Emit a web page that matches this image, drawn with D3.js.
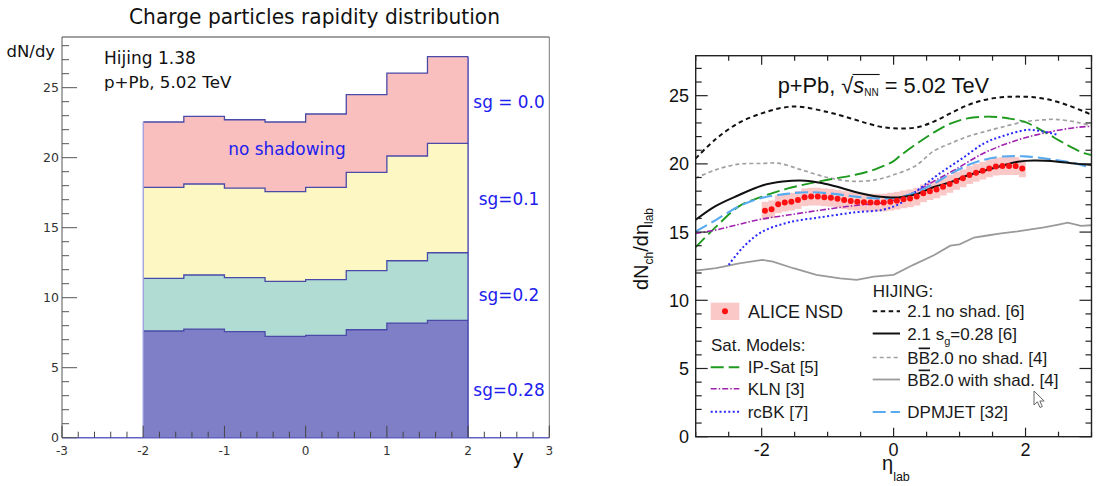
<!DOCTYPE html>
<html><head><meta charset="utf-8">
<script src="https://cdn.jsdelivr.net/npm/d3@7"></script>
<style>body{margin:0;background:#fff}svg{display:block}</style>
</head><body>
<svg id="c" width="1097" height="486"></svg>
<script>
// ---------- LEFT PANEL DATA (Hijing 1.38 histograms) ----------
const histEdges = [-2, -1.5, -1, -0.5, 0, 0.5, 1, 1.5, 2];
const histSg00  = [22.55, 22.95, 22.71, 22.55, 23.12, 24.5, 26.04, 27.22];
const histSg01  = [17.88, 18.12, 17.83, 17.57, 17.88, 18.95, 20.12, 21.02];
const histSg02  = [11.38, 11.62, 11.43, 11.17, 11.29, 11.93, 12.64, 13.21];
const histSg028 = [7.62, 7.76, 7.57, 7.24, 7.31, 7.71, 8.19, 8.38];
const histLabels = ["sg = 0.0", "sg=0.1", "sg=0.2", "sg=0.28"];
const histLabelY = [23.98, 17.05, 10.19, 3.44];
const leftYTicks = [0, 5, 10, 15, 20, 25];
const leftXTicks = [-3, -2, -1, 0, 1, 2, 3];

// ---------- RIGHT PANEL DATA ----------
const aliceEta = [-1.95,-1.85,-1.75,-1.65,-1.55,-1.45,-1.35,-1.25,-1.15,-1.05,-0.95,-0.85,-0.75,-0.65,-0.55,-0.45,-0.35,-0.25,-0.15,-0.05,
                  0.05,0.15,0.25,0.35,0.45,0.55,0.65,0.75,0.85,0.95,1.05,1.15,1.25,1.35,1.45,1.55,1.65,1.75,1.85,1.95];
const aliceVal = [16.57,16.67,17.04,17.16,17.23,17.35,17.55,17.6,17.6,17.55,17.52,17.45,17.35,17.28,17.23,17.18,17.16,17.16,17.16,17.23,
                  17.3,17.4,17.47,17.6,17.84,18.0,18.13,18.33,18.53,18.75,18.94,19.18,19.35,19.5,19.67,19.8,19.84,19.84,19.84,19.67];
const aliceErr = [0.65,0.65,0.65,0.65,0.65,0.65,0.65,0.65,0.65,0.65,0.65,0.65,0.65,0.65,0.65,0.65,0.65,0.65,0.65,0.65,
                  0.65,0.65,0.65,0.65,0.65,0.65,0.65,0.65,0.65,0.65,0.65,0.65,0.65,0.65,0.65,0.65,0.65,0.65,0.65,0.65];

const hijNoShadEta = [-3,-2.7,-2.35,-2,-1.7,-1.45,-1.0,-0.66,-0.4,-0.15,0.1,0.36,0.61,0.86,1.12,1.37,1.63,1.88,2.13,2.38,2.64,2.89,3];
const hijNoShadVal = [20.4,21.8,23.0,23.7,24.1,24.2,23.8,23.35,22.97,22.68,22.6,22.68,23.1,23.7,24.3,24.68,24.88,24.93,24.88,24.68,24.3,23.83,23.6];

const hijSgEta = [-3,-2.7,-2.35,-2,-1.68,-1.34,-1.09,-0.8,-0.55,-0.3,-0.1,0.1,0.36,0.61,0.86,1.12,1.37,1.63,1.88,2.13,2.49,2.79,3];
const hijSgVal = [15.9,16.9,17.7,18.4,18.7,18.77,18.6,18.25,17.9,17.65,17.55,17.55,17.8,18.3,18.65,19.15,19.5,19.85,20.15,20.24,20.16,20.0,19.92];

const bbNoShadEta = [-3,-2.7,-2.35,-2.0,-1.75,-1.42,-1.0,-0.6,-0.25,0,0.33,0.61,0.86,1.12,1.37,1.63,1.98,2.2,2.44,2.8,3];
const bbNoShadVal = [18.95,19.56,19.98,20.03,20.05,19.6,19.0,18.72,18.85,19.2,19.85,20.95,21.5,22.0,22.35,22.68,23.09,23.2,23.27,23.03,22.78];

const bbShadEta = [-3,-2.69,-2.34,-1.99,-1.83,-1.52,-1.17,-0.81,-0.56,-0.3,0,0.3,0.61,0.86,1.0,1.22,1.42,1.63,1.88,2.28,2.5,2.64,2.84,3];
const bbShadVal = [12.18,12.35,12.7,12.96,12.84,12.35,11.86,11.6,11.5,11.74,11.86,12.6,13.3,14.0,14.1,14.6,14.75,14.9,15.05,15.35,15.55,15.69,15.45,15.5];

const ipSatEta = [-3,-2.69,-2.34,-2.05,-1.6,-1.09,-0.58,-0.28,0,0.1,0.356,0.61,0.86,1.12,1.47,1.73,1.98,2.28,2.59,2.89,3];
const ipSatVal = [13.9,15.4,16.9,17.5,18.2,18.75,19.2,19.6,20.2,20.6,21.5,22.3,22.95,23.34,23.46,23.34,23.09,22.36,21.5,20.78,20.65];

const klnEta = [-3,-2.69,-2.34,-2.0,-1.6,-1.09,-0.58,-0.1,0.28,0.6,0.94,1.37,1.88,2.38,2.79,3];
const klnVal = [14.9,15.16,15.57,15.95,16.25,16.62,16.95,17.2,17.84,18.7,19.6,20.8,21.75,22.36,22.68,22.75];

const rcbkEta = [-2.5,-2.28,-2.0,-1.6,-1.09,-0.58,-0.15,0.1,0.4,0.7,1.04,1.37,1.63,2.03,2.28,2.5];
const rcbkVal = [12.6,13.9,15.0,15.7,16.1,16.45,16.65,17.1,18.2,19.3,20.4,21.5,22.0,22.49,22.36,22.12];

const dpmEta = [-3,-2.69,-2.34,-2.0,-1.63,-1.3,-0.9,-0.58,-0.15,0.1,0.4,0.61,0.86,1.12,1.37,1.63,1.98,2.38,2.79,3];
const dpmVal = [15.04,15.9,16.9,17.5,17.8,17.92,17.8,17.6,17.45,17.55,18.05,18.55,19.25,19.9,20.3,20.53,20.55,20.34,20.0,19.68];

const rightYTicks = [0, 5, 10, 15, 20, 25];
const rightXTicks = [-2, 0, 2];
const rightXTickLabels = ["-2", "0", "2"];

// ================= DRAW =================
const svg = d3.select('#c');

// ---------- LEFT PANEL ----------
const LF = '"DejaVu Sans", sans-serif';
const xL = d3.scaleLinear().domain([-3, 3]).range([62, 549.3]);
const yL = d3.scaleLinear().domain([0, 28.62]).range([437.7, 37]);
const gL = svg.append('g');

const histSeries = [
  {vals: histSg00, fill: '#f9bfbf'},
  {vals: histSg01, fill: '#fcf7c3'},
  {vals: histSg02, fill: '#b1dcd4'},
  {vals: histSg028, fill: '#7f7fc7'}
];
function stepPts(vals) {
  const pts = [];
  vals.forEach((v, i) => { pts.push([histEdges[i], v]); pts.push([histEdges[i + 1], v]); });
  return pts;
}
const areaL = d3.area().x(d => xL(d[0])).y0(yL(0)).y1(d => yL(d[1]));
const lineL = d3.line().x(d => xL(d[0])).y(d => yL(d[1]));
histSeries.forEach(s => {
  const pts = stepPts(s.vals);
  gL.append('path').attr('d', areaL(pts)).attr('fill', s.fill);
  gL.append('path').attr('d', lineL(pts)).attr('fill', 'none')
    .attr('stroke', '#4a4aa8').attr('stroke-width', 1.3);
});
gL.append('line').attr('x1', xL(-2)).attr('x2', xL(-2)).attr('y1', yL(0)).attr('y2', yL(histSg00[0]))
  .attr('stroke', '#9c9ce0').attr('stroke-width', 1.3);
gL.append('line').attr('x1', xL(2)).attr('x2', xL(2)).attr('y1', yL(0)).attr('y2', yL(histSg00[7]))
  .attr('stroke', '#3a3ab0').attr('stroke-width', 1.3);

// frame
gL.append('line').attr('x1', xL(-3)).attr('x2', xL(-3)).attr('y1', yL.range()[1]).attr('y2', yL(0)).attr('stroke', '#555').attr('stroke-width', 1);
gL.append('line').attr('x1', xL(-3)).attr('x2', xL(3)).attr('y1', yL.range()[1]).attr('y2', yL.range()[1]).attr('stroke', '#444').attr('stroke-width', 1);
gL.append('line').attr('x1', xL(3)).attr('x2', xL(3)).attr('y1', yL.range()[1]).attr('y2', yL(0)).attr('stroke', '#777').attr('stroke-width', 1);
gL.append('line').attr('x1', xL(-3)).attr('x2', xL(3)).attr('y1', yL(0)).attr('y2', yL(0))
  .attr('stroke', '#6262c4').attr('stroke-width', 1.6);

d3.range(0, 29, 1).forEach(v => {
  const major = v % 5 === 0;
  gL.append('line').attr('x1', xL(-3)).attr('x2', xL(-3) + (major ? 15 : 7))
    .attr('y1', yL(v)).attr('y2', yL(v)).attr('stroke', '#555').attr('stroke-width', 1);
});
d3.range(-3, 3.001, 0.2).forEach(v => {
  const major = Math.abs(v - Math.round(v)) < 1e-6;
  gL.append('line').attr('x1', xL(v)).attr('x2', xL(v))
    .attr('y1', yL(0)).attr('y2', yL(0) - (major ? 12 : 6)).attr('stroke', '#444').attr('stroke-width', 1);
});
gL.selectAll('.ylab').data(leftYTicks).enter().append('text')
  .attr('x', 59).attr('y', d => yL(d) + 4.5).attr('text-anchor', 'end')
  .attr('font-family', LF).attr('font-size', 12.5).attr('fill', '#333').text(d => d);
gL.selectAll('.xlab').data(leftXTicks).enter().append('text')
  .attr('x', d => xL(d)).attr('y', 455).attr('text-anchor', 'middle')
  .attr('font-family', LF).attr('font-size', 12).attr('fill', '#333').text(d => d);

gL.append('text').attr('x', 129).attr('y', 23.5)
  .attr('textLength', 371).attr('lengthAdjust', 'spacingAndGlyphs')
  .attr('font-family', LF).attr('font-size', 21.5).attr('fill', '#111').text('Charge particles rapidity distribution');
gL.append('text').attr('x', 6.5).attr('y', 56.5).attr('font-family', LF).attr('font-size', 16.5).attr('fill', '#111').text('dN/dy');
gL.append('text').attr('x', 104).attr('y', 63.5).attr('font-family', LF).attr('font-size', 17).attr('fill', '#111').text('Hijing 1.38');
gL.append('text').attr('x', 104).attr('y', 87.5).attr('font-family', LF).attr('font-size', 16.7).attr('fill', '#111').text('p+Pb, 5.02 TeV');
gL.append('text').attr('x', 287).attr('y', 154.5).attr('text-anchor', 'middle')
  .attr('font-family', LF).attr('font-size', 16.9).attr('fill', '#2020ee').text('no shadowing');
gL.selectAll('.sg').data(histLabels).enter().append('text')
  .attr('x', 509).attr('y', (d, i) => yL(histLabelY[i]) + 6).attr('text-anchor', 'middle')
  .attr('font-family', LF).attr('font-size', 16.9).attr('fill', '#2020ee').text(d => d);
gL.append('text').attr('x', 518).attr('y', 464).attr('text-anchor', 'middle')
  .attr('font-family', LF).attr('font-size', 19).attr('fill', '#111').text('y');

// ---------- RIGHT PANEL ----------
const RF = '"Liberation Sans", Arial, sans-serif';
const xR = d3.scaleLinear().domain([-3, 3]).range([695.7, 1091.5]);
const yR = d3.scaleLinear().domain([0, 27.93]).range([436.7, 55.7]);
const gR = svg.append('g');
svg.append('defs').append('clipPath').attr('id', 'clipR')
  .append('rect').attr('x', xR(-3)).attr('y', yR(27.93)).attr('width', xR(3) - xR(-3)).attr('height', yR(0) - yR(27.93));

const plot = gR.append('g').attr('clip-path', 'url(#clipR)');

const boxW = xR(0.1) - xR(0);
plot.selectAll('.err').data(aliceEta).enter().append('rect')
  .attr('x', d => xR(d) - boxW / 2).attr('width', boxW + 0.3)
  .attr('y', (d, i) => yR(aliceVal[i] + aliceErr[i]))
  .attr('height', (d, i) => yR(aliceVal[i] - aliceErr[i]) - yR(aliceVal[i] + aliceErr[i]))
  .attr('fill', '#fbc8c8');

const smooth = d3.line().curve(d3.curveCatmullRom.alpha(0.5)).x(d => xR(d[0])).y(d => yR(d[1]));
const straight = d3.line().x(d => xR(d[0])).y(d => yR(d[1]));
const zip = (a, b) => a.map((v, i) => [v, b[i]]);

const curves = [
  {eta: bbShadEta, val: bbShadVal, color: '#9a9a9a', dash: null, w: 1.8, gen: straight},
  {eta: bbNoShadEta, val: bbNoShadVal, color: '#a0a0a0', dash: '4,3', w: 1.7, gen: smooth},
  {eta: hijNoShadEta, val: hijNoShadVal, color: '#111', dash: '4.5,3.5', w: 2, gen: smooth},
  {eta: ipSatEta, val: ipSatVal, color: '#1e9a1e', dash: '13,5', w: 1.9, gen: smooth},
  {eta: klnEta, val: klnVal, color: '#a020b0', dash: '6,2,1.5,2', w: 1.6, gen: smooth},
  {eta: rcbkEta, val: rcbkVal, color: '#2828ff', dash: '2,2.4', w: 2, gen: smooth},
  {eta: dpmEta, val: dpmVal, color: '#5aaaf0', dash: '13,5', w: 2.1, gen: smooth},
  {eta: hijSgEta, val: hijSgVal, color: '#111', dash: null, w: 2, gen: smooth}
];
curves.forEach(c => {
  plot.append('path').attr('d', c.gen(zip(c.eta, c.val))).attr('fill', 'none')
    .attr('stroke', c.color).attr('stroke-width', c.w).attr('stroke-dasharray', c.dash);
});
plot.selectAll('.pt').data(aliceEta).enter().append('circle')
  .attr('cx', d => xR(d)).attr('cy', (d, i) => yR(aliceVal[i])).attr('r', 3).attr('fill', '#ff1010');

gR.append('rect').attr('x', xR(-3)).attr('y', yR(27.93)).attr('width', xR(3) - xR(-3)).attr('height', yR(0) - yR(27.93))
  .attr('fill', 'none').attr('stroke', '#222').attr('stroke-width', 1.4);
d3.range(0, 28, 1).forEach(v => {
  const L = v % 5 === 0 ? 12 : 6;
  gR.append('line').attr('x1', xR(-3)).attr('x2', xR(-3) + L).attr('y1', yR(v)).attr('y2', yR(v)).attr('stroke', '#222').attr('stroke-width', 1.2);
  gR.append('line').attr('x1', xR(3)).attr('x2', xR(3) - L).attr('y1', yR(v)).attr('y2', yR(v)).attr('stroke', '#222').attr('stroke-width', 1.2);
});
d3.range(-3, 3.001, 0.5).forEach(v => {
  const L = (Math.abs(v) % 2 === 0) ? 9 : 5;
  gR.append('line').attr('x1', xR(v)).attr('x2', xR(v)).attr('y1', yR(0)).attr('y2', yR(0) - L).attr('stroke', '#222').attr('stroke-width', 1.2);
  gR.append('line').attr('x1', xR(v)).attr('x2', xR(v)).attr('y1', yR(27.93)).attr('y2', yR(27.93) + L).attr('stroke', '#222').attr('stroke-width', 1.2);
});
gR.selectAll('.ylab').data(rightYTicks).enter().append('text')
  .attr('x', 689).attr('y', d => yR(d) + 6.5).attr('text-anchor', 'end')
  .attr('font-family', RF).attr('font-size', 18).attr('fill', '#111').text(d => d);
gR.selectAll('.xlab').data(rightXTicks).enter().append('text')
  .attr('x', d => xR(d)).attr('y', 456).attr('text-anchor', 'middle')
  .attr('font-family', RF).attr('font-size', 18).attr('fill', '#111').text((d, i) => rightXTickLabels[i]);

const yt = gR.append('text').attr('transform', 'translate(648,249) rotate(-90)').attr('text-anchor', 'middle')
  .attr('font-family', RF).attr('font-size', 20).attr('fill', '#111');
yt.append('tspan').text('dN');
yt.append('tspan').attr('font-size', 12).attr('dy', 5).text('ch');
yt.append('tspan').attr('dy', -5).text('/dη');
yt.append('tspan').attr('font-size', 12).attr('dy', 5).text('lab');
const xt = gR.append('text').attr('x', 882).attr('y', 470).attr('font-family', RF).attr('font-size', 20).attr('fill', '#111');
xt.append('tspan').text('η');
xt.append('tspan').attr('font-size', 12.5).attr('dy', 11).text('lab');

const tt = gR.append('text').attr('x', 777.7).attr('y', 93.3).attr('font-family', RF).attr('font-size', 21.8).attr('fill', '#111');
tt.append('tspan').text('p+Pb, √');
tt.append('tspan').attr('font-style', 'italic').text('s');
tt.append('tspan').attr('font-size', 10).attr('dy', 3).text('NN');
tt.append('tspan').attr('dy', -3).text(' = 5.02 TeV');
{
  const n = tt.node();
  const sq = n.getExtentOfChar(6);
  const nn = n.getExtentOfChar(9);
  gR.append('line').attr('x1', sq.x + sq.width - 0.8).attr('x2', nn.x + nn.width + 1)
    .attr('y1', sq.y + 1.2).attr('y2', sq.y + 1.2).attr('stroke', '#111').attr('stroke-width', 1.1);
}

const lg = gR.append('g').attr('font-family', RF).attr('font-size', 17).attr('fill', '#1a1a1a');
lg.append('rect').attr('x', 710.7).attr('y', 302.7).attr('width', 28.6).attr('height', 17.3).attr('fill', '#fbc8c8');
lg.append('circle').attr('cx', 725).attr('cy', 311.3).attr('r', 3).attr('fill', '#ff1010');
lg.append('text').attr('x', 748).attr('y', 318).attr('font-size', 18).text('ALICE NSD');
lg.append('text').attr('x', 711).attr('y', 351).text('Sat. Models:');
const legL = [
  {y: 367.3, label: 'IP-Sat [5]', c: curves[3]},
  {y: 388.8, label: 'KLN [3]', c: curves[4]},
  {y: 411.7, label: 'rcBK [7]', c: curves[5]}
];
legL.forEach(d => {
  lg.append('line').attr('x1', 710.7).attr('x2', 739.3).attr('y1', d.y).attr('y2', d.y)
    .attr('stroke', d.c.color).attr('stroke-width', d.c.w).attr('stroke-dasharray', d.c.dash);
  lg.append('text').attr('x', 747.7).attr('y', d.y + 6).text(d.label);
});
lg.append('text').attr('x', 872.7).attr('y', 297).text('HIJING:');
const legR = [
  {y: 311.3, c: curves[2], parts: [['2.1 no shad. [6]']]},
  {y: 333.5, c: curves[7], parts: [['2.1 s'], ['g', 'sub'], ['=0.28 [6]', 'up']]},
  {y: 357.5, c: curves[1], parts: [['B'], ['B', 'bar'], ['2.0 no shad. [4]']]},
  {y: 379.5, c: curves[0], parts: [['B'], ['B', 'bar'], ['2.0 with shad. [4]']]},
  {y: 412, c: curves[6], parts: [['DPMJET [32]']]}
];
legR.forEach(d => {
  lg.append('line').attr('x1', 872.7).attr('x2', 900).attr('y1', d.y).attr('y2', d.y)
    .attr('stroke', d.c.color).attr('stroke-width', d.c.w).attr('stroke-dasharray', d.c.dash);
  const t = lg.append('text').attr('x', 907.3).attr('y', d.y + 6);
  d.parts.forEach(p => {
    const ts = t.append('tspan').text(p[0]);
    if (p[1] === 'sub') ts.attr('font-size', 11).attr('dy', 5);
    if (p[1] === 'up') ts.attr('dy', -5);
    if (p[1] === 'bar') ts.attr('text-decoration', 'overline');
  });
});
gR.append('path').attr('transform', 'translate(1034,391)')
  .attr('d', 'M0,0 L0,14 L3.4,10.8 L6,16.5 L8.3,15.5 L5.8,10 L10.2,10 Z')
  .attr('fill', '#fff').attr('stroke', '#666').attr('stroke-width', 1);
</script>
</body></html>
